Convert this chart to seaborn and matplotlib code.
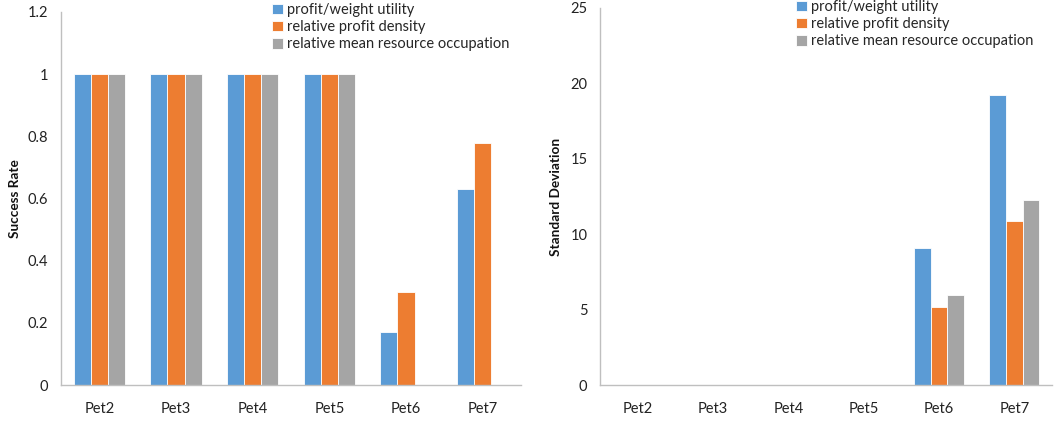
import matplotlib
matplotlib.use("Agg")
import matplotlib.pyplot as plt
import pandas as pd
import seaborn as sns

categories = ["Pet2", "Pet3", "Pet4", "Pet5", "Pet6", "Pet7"]
series_names = ["profit/weight utility", "relative profit density",
                "relative mean resource occupation"]
success_pw = [1, 1, 1, 1, 0.17, 0.63]
success_rpd = [1, 1, 1, 1, 0.30, 0.78]
success_rmro = [1, 1, 1, 1, 0, 0]
std_pw = [0, 0, 0, 0, 9.1, 19.25]
std_rpd = [0, 0, 0, 0, 5.2, 10.9]
std_rmro = [0, 0, 0, 0, 5.97, 12.3]
colors = ["#5B9BD5", "#ED7D31", "#A5A5A5"]


def long_frame(cols):
    rows = []
    for name, vals in zip(series_names, cols):
        for cat, v in zip(categories, vals):
            rows.append({"cat": cat, "series": name, "value": v})
    return pd.DataFrame(rows)


sns.set_style("white")
plt.rcParams["font.family"] = ["Lato", "DejaVu Sans"]

fig = plt.figure(figsize=(10.57, 4.21), dpi=100)
ax1 = fig.add_axes([0.0577, 0.0855, 0.4352, 0.886])
ax2 = fig.add_axes([0.5676, 0.0855, 0.4276, 0.8955])

spine_c = "#BFBFBF"


def draw(ax, df, ylim, yticks, ytick_labels, ylabel, leg_anchor):
    sns.barplot(data=df, x="cat", y="value", hue="series", palette=colors,
                saturation=1, width=0.67, ax=ax, edgecolor="white",
                linewidth=0.6, errorbar=None)
    ax.set_ylim(*ylim)
    ax.set_xlim(-0.5, len(categories) - 0.5)
    ax.set_yticks(yticks)
    ax.set_yticklabels(ytick_labels, fontsize=10.5, color="#222222")
    ax.set_xticks(range(len(categories)))
    ax.set_xticklabels(categories, fontsize=10.5, color="#222222")
    ax.set_xlabel("")
    ax.set_ylabel(ylabel, fontsize=9.8, fontweight="bold", color="#111111")
    for s in ["top", "right"]:
        ax.spines[s].set_visible(False)
    for s in ["left", "bottom"]:
        ax.spines[s].set_color(spine_c)
        ax.spines[s].set_linewidth(1.0)
    ax.tick_params(axis="both", which="both", direction="out", length=4,
                   width=1, color=spine_c, pad=5)
    ax.tick_params(axis="x", pad=8)
    handles, labels = ax.get_legend_handles_labels()
    ax.legend_.remove()
    fig.legend(handles, labels, loc="upper left", bbox_to_anchor=leg_anchor,
               frameon=False, fontsize=10.5, handlelength=0.75,
               handleheight=0.75, handletextpad=0.3, labelspacing=0.22,
               borderpad=0, borderaxespad=0)


draw(ax1, long_frame([success_pw, success_rpd, success_rmro]), (0, 1.2),
     [0, 0.2, 0.4, 0.6, 0.8, 1, 1.2],
     ["0", "0.2", "0.4", "0.6", "0.8", "1", "1.2"],
     "Success Rate", (272 / 1057, 1 - 3 / 421))
draw(ax2, long_frame([std_pw, std_rpd, std_rmro]), (0, 25),
     [0, 5, 10, 15, 20, 25], ["0", "5", "10", "15", "20", "25"],
     "Standard Deviation", (796 / 1057, 1 - 0 / 421))

ax1.yaxis.set_label_coords(-0.1, 0.5)
ax2.yaxis.set_label_coords(-0.1, 0.5)
ax1.yaxis.label.set_horizontalalignment("center")
ax1.yaxis.label.set_verticalalignment("center")
ax2.yaxis.label.set_verticalalignment("center")
ax1.yaxis.label.set_position((0, 0.5))
ax1.yaxis.set_label_coords(-46 / 460, 0.5)
ax2.yaxis.set_label_coords(-44 / 452, 0.5)

fig.savefig("out.png", dpi=100)
